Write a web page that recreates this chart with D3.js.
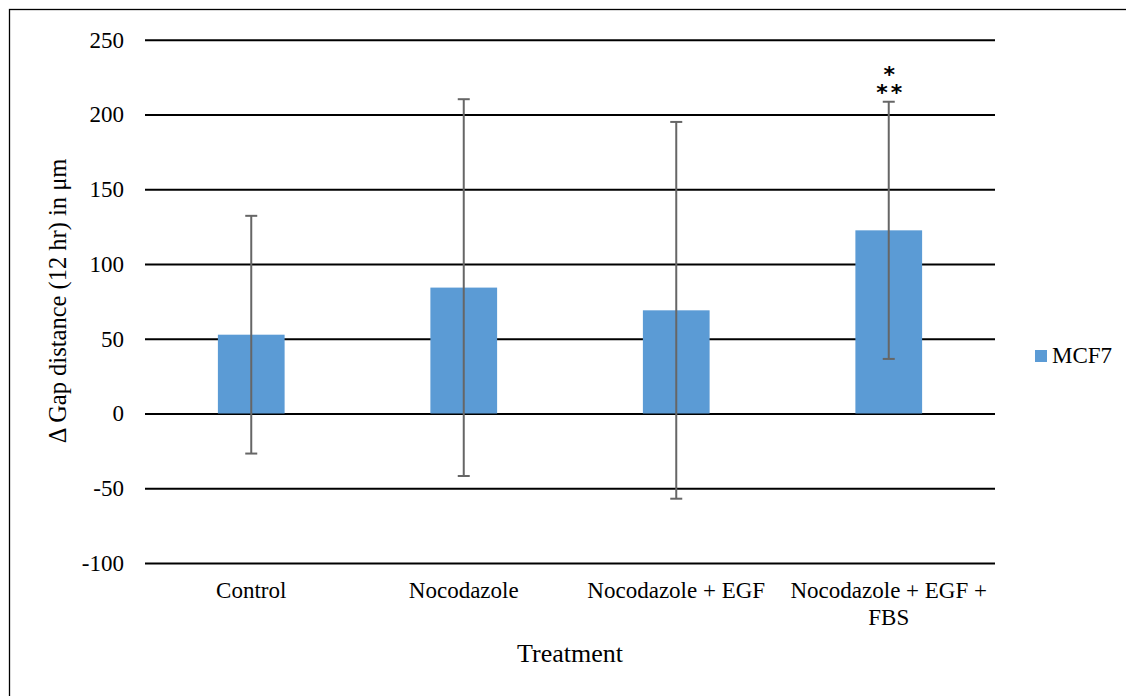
<!DOCTYPE html>
<html>
<head>
<meta charset="utf-8">
<script src="https://cdn.jsdelivr.net/npm/d3@7"></script>
<style>
    body { margin: 0; background: #fff; }
</style>
</head>
<body>
<script>
'use strict';

// chart data
const categories = ["Control", "Nocodazole", "Nocodazole + EGF", "Nocodazole + EGF + FBS"];
const categoryLines = [["Control"], ["Nocodazole"], ["Nocodazole + EGF"], ["Nocodazole + EGF +", "FBS"]];
const means = [52.7, 84.2, 69, 122.5];
const errors = [79.5, 126, 126, 86];
const yTicks = [-100, -50, 0, 50, 100, 150, 200, 250];
const seriesName = "MCF7";
const significance = [[], [], [], ["*", "**"]];

const serif = "\"Liberation Serif\", \"Times New Roman\", serif";
const svgWidth = 1126, svgHeight = 696;

const svg = d3.select("body").append("svg")
    .attr("width", svgWidth)
    .attr("height", svgHeight)
    .style("font-family", serif);

// outer frame
svg.append("rect")
    .attr("x", 9.5).attr("y", 9.5)
    .attr("width", svgWidth + 20).attr("height", svgHeight + 20)
    .attr("fill", "none")
    .attr("stroke", "#000")
    .attr("stroke-width", 1.3);

// scales
const x = d3.scaleBand()
    .domain(categories)
    .range([145, 995])
    .paddingInner(0.686)
    .paddingOuter(0.343);

const y = d3.scaleLinear()
    .domain([-100, 250])
    .range([563, 39.7]);

// gridlines with y tick labels
const yAxis = d3.axisLeft(y)
    .tickValues(yTicks)
    .tickSize(-(995 - 145))
    .tickPadding(21)
    .tickFormat((d) => String(d));

const yg = svg.append("g")
    .attr("transform", "translate(145,0)")
    .call(yAxis)
    .attr("font-family", null)
    .attr("font-size", null);
yg.select(".domain").remove();
yg.selectAll(".tick line")
    .attr("stroke", "#000")
    .attr("stroke-width", 2);
yg.selectAll(".tick text")
    .attr("fill", "#000")
    .style("font-family", serif)
    .style("font-size", "23px");

// bars
svg.selectAll(".bar")
    .data(categories)
    .enter()
    .append("rect")
    .attr("class", "bar")
    .attr("x", (d) => x(d))
    .attr("width", x.bandwidth())
    .attr("y", (d, i) => y(Math.max(0, means[i])))
    .attr("height", (d, i) => Math.abs(y(means[i]) - y(0)))
    .attr("fill", "#5b9bd5");

// error bars
const eb = svg.selectAll(".err")
    .data(categories)
    .enter()
    .append("g")
    .attr("class", "err")
    .attr("stroke", "#666")
    .attr("stroke-width", 2);

eb.append("line")
    .attr("x1", (d) => x(d) + x.bandwidth() / 2)
    .attr("x2", (d) => x(d) + x.bandwidth() / 2)
    .attr("y1", (d, i) => y(means[i] + errors[i]))
    .attr("y2", (d, i) => y(means[i] - errors[i]));

[1, -1].forEach((s) => {
    eb.append("line")
        .attr("x1", (d) => x(d) + x.bandwidth() / 2 - 6)
        .attr("x2", (d) => x(d) + x.bandwidth() / 2 + 6)
        .attr("y1", (d, i) => y(means[i] + s * errors[i]))
        .attr("y2", (d, i) => y(means[i] + s * errors[i]));
});

// significance stars, one text with stacked lines
const sig = svg.selectAll(".sig")
    .data(categories)
    .enter()
    .append("text")
    .attr("class", "sig")
    .attr("text-anchor", "middle")
    .style("font-family", "'DejaVu Sans', sans-serif")
    .style("font-weight", "bold")
    .style("font-size", "22px")
    .style("letter-spacing", "3px");

sig.each(function(d, i) {
    const top = y(means[i] + errors[i]);
    d3.select(this).selectAll("tspan")
        .data(significance[i])
        .enter()
        .append("tspan")
        .attr("x", x(d) + x.bandwidth() / 2 + 2)
        .attr("y", (t, j) => top - 20 + j * 18)
        .text((t) => t);
});

// category labels
const cl = svg.selectAll(".cat")
    .data(categories)
    .enter()
    .append("text")
    .attr("class", "cat")
    .attr("text-anchor", "middle")
    .style("font-family", serif)
    .style("font-size", "23px");

cl.each(function(d, i) {
    d3.select(this).selectAll("tspan")
        .data(categoryLines[i])
        .enter()
        .append("tspan")
        .attr("x", x(d) + x.bandwidth() / 2)
        .attr("y", (t, j) => 598 + j * 27)
        .text((t) => t);
});

// axis titles
svg.append("text")
    .attr("x", 570)
    .attr("y", 662)
    .attr("text-anchor", "middle")
    .style("font-family", serif)
    .style("font-size", "26px")
    .text("Treatment");

svg.append("text")
    .attr("transform", "translate(66, 301)rotate(-90)")
    .attr("text-anchor", "middle")
    .style("font-family", serif)
    .style("font-size", "24.5px")
    .text("Δ Gap distance (12 hr) in μm");

// legend
svg.append("rect")
    .attr("x", 1035)
    .attr("y", 350)
    .attr("width", 12)
    .attr("height", 12)
    .attr("fill", "#5b9bd5");

svg.append("text")
    .attr("x", 1052)
    .attr("y", 363)
    .style("font-family", serif)
    .style("font-size", "23px")
    .text(seriesName);
</script>
</body>
</html>
